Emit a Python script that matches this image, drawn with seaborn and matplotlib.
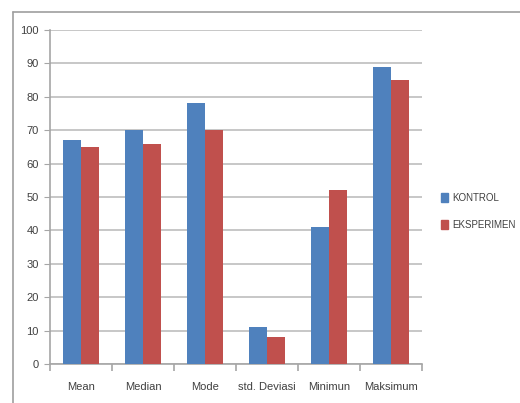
import matplotlib
matplotlib.use("Agg")
import matplotlib.pyplot as plt
import seaborn as sns
import pandas as pd
import numpy as np
from matplotlib.lines import Line2D
from matplotlib.patches import Patch

categories = ["Mean", "Median", "Mode", "std. Deviasi", "Minimun", "Maksimum"]
kontrol = [67, 70, 78, 11, 41, 89]
eksperimen = [65, 66, 70, 8, 52, 85]
series_names = ["KONTROL", "EKSPERIMEN"]
y_ticks = [0, 10, 20, 30, 40, 50, 60, 70, 80, 90, 100]

colors = ["#4F81BD", "#C0504D"]

df = pd.DataFrame({
    "kategori": categories * 2,
    "nilai": kontrol + eksperimen,
    "kelompok": [series_names[0]] * len(categories) + [series_names[1]] * len(categories),
})

sns.set_style("white")
plt.rcParams["font.family"] = ["Liberation Sans", "DejaVu Sans"]

fig = plt.figure(figsize=(5.2, 4.03), dpi=100)
W, H = 520, 403
ax = fig.add_axes([50 / W, (H - 364) / H, (422 - 50) / W, (364 - 30) / H])

sns.barplot(data=df, x="kategori", y="nilai", hue="kelompok", palette=colors,
            width=0.57, saturation=1, ax=ax, legend=False, zorder=3,
            linewidth=0, edgecolor="none")

ax.set_ylim(0, 100)
ax.set_xlim(-0.5, len(categories) - 0.5)
ax.set_yticks(y_ticks)
ax.set_yticklabels([str(v) for v in y_ticks])
ax.yaxis.grid(True, color="#BDBDBD", linewidth=1.2, zorder=0)
ax.set_axisbelow(True)
ax.set_xlabel("")
ax.set_ylabel("")

for s in ["top", "right"]:
    ax.spines[s].set_visible(False)
for s in ["left", "bottom"]:
    ax.spines[s].set_color("#A6A6A6")
    ax.spines[s].set_linewidth(1.2)

ax.tick_params(axis="y", direction="out", length=4, color="#A6A6A6",
               labelsize=8, labelcolor="#404040", pad=4, left=True)
ax.tick_params(axis="x", which="major", length=0, labelsize=8,
               labelcolor="#404040", pad=13)
ax.set_xticks(np.arange(-0.5, len(categories), 1.0), minor=True)
ax.tick_params(axis="x", which="minor", direction="out", length=5,
               color="#A6A6A6", width=1.2, bottom=True)

handles = [Patch(facecolor=c, edgecolor=c) for c in colors]
fig.legend(handles, series_names, loc="upper left",
           bbox_to_anchor=(432 / W, 1 - 184 / H), frameon=False,
           prop={"size": 7},
           handlelength=0.7, handleheight=1.0,
           handletextpad=0.45, labelspacing=1.75, labelcolor="#404040")

# chart area frame
fig.add_artist(Line2D([13 / W, 1.0], [1 - 12 / H, 1 - 12 / H], color="#9E9E9E",
                      linewidth=1.2, transform=fig.transFigure))
fig.add_artist(Line2D([13 / W, 13 / W], [1 - 12 / H, 0.0], color="#9E9E9E",
                      linewidth=1.2, transform=fig.transFigure))

fig.savefig("out.png", dpi=100)
